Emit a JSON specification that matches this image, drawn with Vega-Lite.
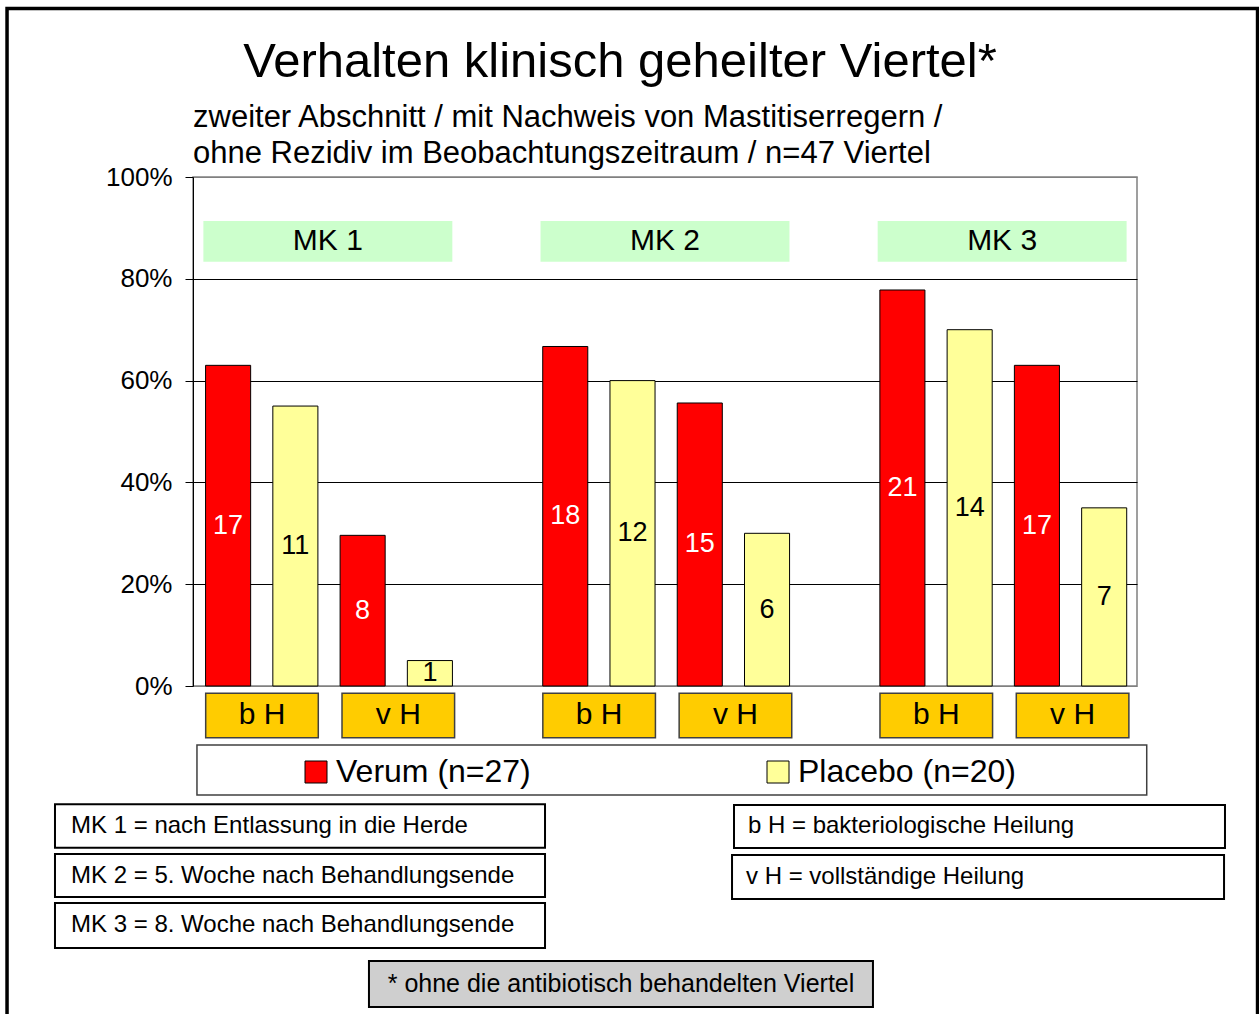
{
  "$schema": "https://vega.github.io/schema/vega-lite/v6.json",
  "width": 944,
  "height": 509,
  "autosize": {"type": "none"},
  "padding": {"left": 193, "top": 177, "right": 122, "bottom": 328},
  "background": "white",
  "config": {
    "font": "Liberation Sans",
    "view": {"stroke": "#808080", "strokeWidth": 1.5},
    "text": {"font": "Liberation Sans", "color": "black"}
  },
  "datasets": {
    "balken": [
      {"mk": "MK 1", "heilung": "b H", "gruppe": "Verum (n=27)", "balken": "b H Verum", "anzahl": 17, "prozent": 63.0},
      {"mk": "MK 1", "heilung": "b H", "gruppe": "Placebo (n=20)", "balken": "b H Placebo", "anzahl": 11, "prozent": 55.0},
      {"mk": "MK 1", "heilung": "v H", "gruppe": "Verum (n=27)", "balken": "v H Verum", "anzahl": 8, "prozent": 29.6},
      {"mk": "MK 1", "heilung": "v H", "gruppe": "Placebo (n=20)", "balken": "v H Placebo", "anzahl": 1, "prozent": 5.0},
      {"mk": "MK 2", "heilung": "b H", "gruppe": "Verum (n=27)", "balken": "b H Verum", "anzahl": 18, "prozent": 66.7},
      {"mk": "MK 2", "heilung": "b H", "gruppe": "Placebo (n=20)", "balken": "b H Placebo", "anzahl": 12, "prozent": 60.0},
      {"mk": "MK 2", "heilung": "v H", "gruppe": "Verum (n=27)", "balken": "v H Verum", "anzahl": 15, "prozent": 55.6},
      {"mk": "MK 2", "heilung": "v H", "gruppe": "Placebo (n=20)", "balken": "v H Placebo", "anzahl": 6, "prozent": 30.0},
      {"mk": "MK 3", "heilung": "b H", "gruppe": "Verum (n=27)", "balken": "b H Verum", "anzahl": 21, "prozent": 77.8},
      {"mk": "MK 3", "heilung": "b H", "gruppe": "Placebo (n=20)", "balken": "b H Placebo", "anzahl": 14, "prozent": 70.0},
      {"mk": "MK 3", "heilung": "v H", "gruppe": "Verum (n=27)", "balken": "v H Verum", "anzahl": 17, "prozent": 63.0},
      {"mk": "MK 3", "heilung": "v H", "gruppe": "Placebo (n=20)", "balken": "v H Placebo", "anzahl": 7, "prozent": 35.0}
    ],
    "zeitpunkte": [{"mk": "MK 1"}, {"mk": "MK 2"}, {"mk": "MK 3"}],
    "heilungsarten": [
      {"mk": "MK 1", "heilung": "b H"}, {"mk": "MK 1", "heilung": "v H"},
      {"mk": "MK 2", "heilung": "b H"}, {"mk": "MK 2", "heilung": "v H"},
      {"mk": "MK 3", "heilung": "b H"}, {"mk": "MK 3", "heilung": "v H"}
    ]
  },
  "layer": [
    {
      "data": {"values": [{}]},
      "mark": {"type": "rect", "filled": false, "stroke": "black", "strokeWidth": 3.5},
      "encoding": {
        "x": {"datum": -19.7, "type": "quantitative", "scale": {"domain": [0, 100], "nice": false, "zero": false}, "axis": null},
        "x2": {"datum": 112.77},
        "y": {"datum": 133.1, "type": "quantitative", "scale": {"domain": [0, 100], "nice": false, "zero": false}, "axis": null},
        "y2": {"datum": -66}
      }
    },
    {
      "data": {"values": [{"t": "Verhalten klinisch geheilter Viertel*"}]},
      "mark": {"type": "text", "align": "center", "baseline": "alphabetic", "fontSize": 49},
      "encoding": {
        "x": {"datum": 45.23, "type": "quantitative", "scale": {"domain": [0, 100], "nice": false, "zero": false}, "axis": null},
        "y": {"datum": 119.7, "type": "quantitative", "scale": {"domain": [0, 100], "nice": false, "zero": false}, "axis": null},
        "text": {"field": "t"}
      }
    },
    {
      "data": {"values": [{"t": ["zweiter Abschnitt / mit Nachweis von Mastitiserregern /", "ohne Rezidiv im Beobachtungszeitraum / n=47 Viertel"]}]},
      "mark": {"type": "text", "align": "left", "baseline": "alphabetic", "fontSize": 31, "lineHeight": 36.6},
      "encoding": {
        "x": {"datum": 0, "type": "quantitative", "scale": {"domain": [0, 100], "nice": false, "zero": false}, "axis": null},
        "y": {"datum": 109.88, "type": "quantitative", "scale": {"domain": [0, 100], "nice": false, "zero": false}, "axis": null},
        "text": {"field": "t"}
      }
    },
    {
      "data": {"name": "zeitpunkte"},
      "mark": {"type": "bar", "color": "#CCFFCC", "width": {"band": 0.923}},
      "encoding": {
        "x": {"field": "mk", "type": "nominal", "scale": {"type": "band", "domain": ["MK 1", "MK 2", "MK 3"], "paddingInner": 0.2, "paddingOuter": 0}, "axis": null},
        "y": {"datum": 91.36, "type": "quantitative", "scale": {"domain": [0, 100], "nice": false, "zero": false}, "axis": null},
        "y2": {"datum": 83.36}
      }
    },
    {
      "data": {"name": "zeitpunkte"},
      "mark": {"type": "text", "align": "center", "baseline": "middle", "fontSize": 30},
      "encoding": {
        "x": {"field": "mk", "type": "nominal", "scale": {"type": "band", "domain": ["MK 1", "MK 2", "MK 3"], "paddingInner": 0.2, "paddingOuter": 0}, "axis": null},
        "y": {"datum": 87.4, "type": "quantitative", "scale": {"domain": [0, 100], "nice": false, "zero": false}, "axis": null},
        "text": {"field": "mk"}
      }
    },
    {
      "data": {"name": "balken"},
      "mark": {"type": "bar", "stroke": "black", "strokeWidth": 1},
      "encoding": {
        "x": {"field": "mk", "type": "nominal", "scale": {"type": "band", "domain": ["MK 1", "MK 2", "MK 3"], "paddingInner": 0.2, "paddingOuter": 0}, "axis": null},
        "xOffset": {"field": "balken", "type": "nominal", "scale": {"type": "band", "domain": ["b H Verum", "b H Placebo", "v H Verum", "v H Placebo"], "paddingInner": 0.33, "paddingOuter": 0.17, "align": 0.55}},
        "y": {
          "field": "prozent", "type": "quantitative",
          "scale": {"domain": [0, 100], "nice": false, "zero": true},
          "axis": {
            "values": [0, 20, 40, 60, 80, 100],
            "labelExpr": "datum.value + '%'",
            "title": null,
            "labelFontSize": 26,
            "labelFont": "Liberation Sans",
            "labelColor": "black",
            "labelPadding": 13,
            "tickSize": 8,
            "tickColor": "black",
            "domainColor": "black",
            "domainWidth": 1,
            "grid": true,
            "gridColor": {"condition": {"test": "datum.value === 100 || datum.value === 0", "value": "#808080"}, "value": "black"},
            "gridWidth": 1,
            "gridOpacity": 1
          }
        },
        "color": {
          "field": "gruppe", "type": "nominal",
          "scale": {"domain": ["Verum (n=27)", "Placebo (n=20)"], "range": ["#FF0000", "#FFFF99"]},
          "legend": {
            "orient": "none",
            "legendX": 107,
            "legendY": 579,
            "direction": "horizontal",
            "title": null,
            "symbolType": "square",
            "symbolSize": 484,
            "symbolStrokeColor": "black",
            "symbolStrokeWidth": 1,
            "symbolOpacity": 1,
            "labelFontSize": 32,
            "labelFont": "Liberation Sans",
            "labelColor": "black",
            "labelOffset": 4,
            "labelLimit": 500,
            "columnPadding": 231,
            "padding": 0
          }
        }
      }
    },
    {
      "data": {"name": "balken"},
      "mark": {"type": "text", "align": "center", "baseline": "middle", "fontSize": 27},
      "encoding": {
        "x": {"field": "mk", "type": "nominal", "scale": {"type": "band", "domain": ["MK 1", "MK 2", "MK 3"], "paddingInner": 0.2, "paddingOuter": 0}, "axis": null},
        "xOffset": {"field": "balken", "type": "nominal", "scale": {"type": "band", "domain": ["b H Verum", "b H Placebo", "v H Verum", "v H Placebo"], "paddingInner": 0.33, "paddingOuter": 0.17, "align": 0.55}},
        "y": {"field": "prozent", "type": "quantitative", "scale": {"domain": [0, 200], "nice": false, "zero": true}, "axis": null},
        "text": {"field": "anzahl"},
        "color": {"condition": {"test": "datum.gruppe === 'Verum (n=27)'", "value": "white"}, "value": "black"}
      }
    },
    {
      "data": {"name": "heilungsarten"},
      "mark": {"type": "bar", "fill": "#FFCC00", "stroke": "#404040", "strokeWidth": 1.5},
      "encoding": {
        "x": {"field": "mk", "type": "nominal", "scale": {"type": "band", "domain": ["MK 1", "MK 2", "MK 3"], "paddingInner": 0.2, "paddingOuter": 0}, "axis": null},
        "xOffset": {"field": "heilung", "type": "nominal", "scale": {"type": "band", "domain": ["b H", "v H"], "paddingInner": 0.174, "paddingOuter": 0.0763, "align": 0.61}},
        "y": {"datum": -1.43, "type": "quantitative", "scale": {"domain": [0, 100], "nice": false, "zero": false}, "axis": null},
        "y2": {"datum": -10.16}
      }
    },
    {
      "data": {"name": "heilungsarten"},
      "mark": {"type": "text", "align": "center", "baseline": "middle", "fontSize": 30},
      "encoding": {
        "x": {"field": "mk", "type": "nominal", "scale": {"type": "band", "domain": ["MK 1", "MK 2", "MK 3"], "paddingInner": 0.2, "paddingOuter": 0}, "axis": null},
        "xOffset": {"field": "heilung", "type": "nominal", "scale": {"type": "band", "domain": ["b H", "v H"], "paddingInner": 0.174, "paddingOuter": 0.0763, "align": 0.61}},
        "y": {"datum": -5.7, "type": "quantitative", "scale": {"domain": [0, 100], "nice": false, "zero": false}, "axis": null},
        "text": {"field": "heilung"}
      }
    },
    {
      "data": {"values": [{}]},
      "mark": {"type": "rect", "filled": false, "stroke": "#404040", "strokeWidth": 1.5},
      "encoding": {
        "x": {"datum": 0.42, "type": "quantitative", "scale": {"domain": [0, 100], "nice": false, "zero": false}, "axis": null},
        "x2": {"datum": 101.03},
        "y": {"datum": -11.59, "type": "quantitative", "scale": {"domain": [0, 100], "nice": false, "zero": false}, "axis": null},
        "y2": {"datum": -21.41}
      }
    },
    {
      "data": {"values": [{"t": "MK 1 = nach Entlassung in die Herde"}]},
      "layer": [
        {
          "mark": {"type": "rect", "fill": "white", "stroke": "black", "strokeWidth": 2},
          "encoding": {
            "x": {"datum": -14.62, "type": "quantitative", "scale": {"domain": [0, 100], "nice": false, "zero": false}, "axis": null},
            "x2": {"datum": 37.29},
            "y": {"datum": -23.24, "type": "quantitative", "scale": {"domain": [0, 100], "nice": false, "zero": false}, "axis": null},
            "y2": {"datum": -31.77}
          }
        },
        {
          "mark": {"type": "text", "align": "left", "baseline": "middle", "fontSize": 24},
          "encoding": {
            "x": {"datum": -12.92, "type": "quantitative", "scale": {"domain": [0, 100], "nice": false, "zero": false}, "axis": null},
            "y": {"datum": -27.5, "type": "quantitative", "scale": {"domain": [0, 100], "nice": false, "zero": false}, "axis": null},
            "text": {"field": "t"}
          }
        }
      ]
    },
    {
      "data": {"values": [{"t": "MK 2 = 5. Woche nach Behandlungsende"}]},
      "layer": [
        {
          "mark": {"type": "rect", "fill": "white", "stroke": "black", "strokeWidth": 2},
          "encoding": {
            "x": {"datum": -14.62, "type": "quantitative", "scale": {"domain": [0, 100], "nice": false, "zero": false}, "axis": null},
            "x2": {"datum": 37.29},
            "y": {"datum": -33.01, "type": "quantitative", "scale": {"domain": [0, 100], "nice": false, "zero": false}, "axis": null},
            "y2": {"datum": -41.45}
          }
        },
        {
          "mark": {"type": "text", "align": "left", "baseline": "middle", "fontSize": 24},
          "encoding": {
            "x": {"datum": -12.92, "type": "quantitative", "scale": {"domain": [0, 100], "nice": false, "zero": false}, "axis": null},
            "y": {"datum": -37.23, "type": "quantitative", "scale": {"domain": [0, 100], "nice": false, "zero": false}, "axis": null},
            "text": {"field": "t"}
          }
        }
      ]
    },
    {
      "data": {"values": [{"t": "MK 3 = 8. Woche nach Behandlungsende"}]},
      "layer": [
        {
          "mark": {"type": "rect", "fill": "white", "stroke": "black", "strokeWidth": 2},
          "encoding": {
            "x": {"datum": -14.62, "type": "quantitative", "scale": {"domain": [0, 100], "nice": false, "zero": false}, "axis": null},
            "x2": {"datum": 37.29},
            "y": {"datum": -42.63, "type": "quantitative", "scale": {"domain": [0, 100], "nice": false, "zero": false}, "axis": null},
            "y2": {"datum": -51.47}
          }
        },
        {
          "mark": {"type": "text", "align": "left", "baseline": "middle", "fontSize": 24},
          "encoding": {
            "x": {"datum": -12.92, "type": "quantitative", "scale": {"domain": [0, 100], "nice": false, "zero": false}, "axis": null},
            "y": {"datum": -47.05, "type": "quantitative", "scale": {"domain": [0, 100], "nice": false, "zero": false}, "axis": null},
            "text": {"field": "t"}
          }
        }
      ]
    },
    {
      "data": {"values": [{"t": "b H = bakteriologische Heilung"}]},
      "layer": [
        {
          "mark": {"type": "rect", "fill": "white", "stroke": "black", "strokeWidth": 2},
          "encoding": {
            "x": {"datum": 57.31, "type": "quantitative", "scale": {"domain": [0, 100], "nice": false, "zero": false}, "axis": null},
            "x2": {"datum": 109.32},
            "y": {"datum": -23.38, "type": "quantitative", "scale": {"domain": [0, 100], "nice": false, "zero": false}, "axis": null},
            "y2": {"datum": -31.83}
          }
        },
        {
          "mark": {"type": "text", "align": "left", "baseline": "middle", "fontSize": 24},
          "encoding": {
            "x": {"datum": 58.79, "type": "quantitative", "scale": {"domain": [0, 100], "nice": false, "zero": false}, "axis": null},
            "y": {"datum": -27.6, "type": "quantitative", "scale": {"domain": [0, 100], "nice": false, "zero": false}, "axis": null},
            "text": {"field": "t"}
          }
        }
      ]
    },
    {
      "data": {"values": [{"t": "v H = vollständige Heilung"}]},
      "layer": [
        {
          "mark": {"type": "rect", "fill": "white", "stroke": "black", "strokeWidth": 2},
          "encoding": {
            "x": {"datum": 57.1, "type": "quantitative", "scale": {"domain": [0, 100], "nice": false, "zero": false}, "axis": null},
            "x2": {"datum": 109.22},
            "y": {"datum": -33.2, "type": "quantitative", "scale": {"domain": [0, 100], "nice": false, "zero": false}, "axis": null},
            "y2": {"datum": -41.85}
          }
        },
        {
          "mark": {"type": "text", "align": "left", "baseline": "middle", "fontSize": 24},
          "encoding": {
            "x": {"datum": 58.58, "type": "quantitative", "scale": {"domain": [0, 100], "nice": false, "zero": false}, "axis": null},
            "y": {"datum": -37.52, "type": "quantitative", "scale": {"domain": [0, 100], "nice": false, "zero": false}, "axis": null},
            "text": {"field": "t"}
          }
        }
      ]
    },
    {
      "data": {"values": [{"t": "* ohne die antibiotisch behandelten Viertel"}]},
      "layer": [
        {
          "mark": {"type": "rect", "fill": "#CFCFCF", "stroke": "black", "strokeWidth": 2},
          "encoding": {
            "x": {"datum": 18.64, "type": "quantitative", "scale": {"domain": [0, 100], "nice": false, "zero": false}, "axis": null},
            "x2": {"datum": 72.03},
            "y": {"datum": -54.03, "type": "quantitative", "scale": {"domain": [0, 100], "nice": false, "zero": false}, "axis": null},
            "y2": {"datum": -63.06}
          }
        },
        {
          "mark": {"type": "text", "align": "center", "baseline": "middle", "fontSize": 25},
          "encoding": {
            "x": {"datum": 45.34, "type": "quantitative", "scale": {"domain": [0, 100], "nice": false, "zero": false}, "axis": null},
            "y": {"datum": -58.55, "type": "quantitative", "scale": {"domain": [0, 100], "nice": false, "zero": false}, "axis": null},
            "text": {"field": "t"}
          }
        }
      ]
    }
  ],
  "resolve": {"scale": {"x": "independent", "y": "independent", "xOffset": "independent"}}
}
